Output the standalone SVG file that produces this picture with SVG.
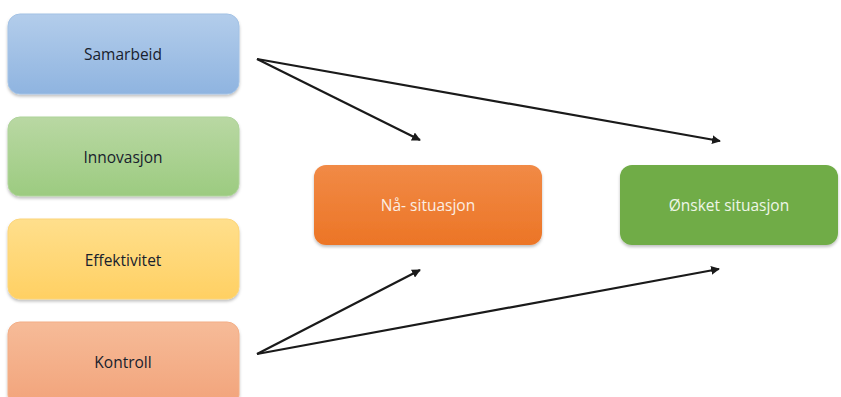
<svg xmlns="http://www.w3.org/2000/svg" width="841" height="397" viewBox="0 0 841 397">
  <defs>
    <linearGradient id="gBlue" x1="0" y1="0" x2="0" y2="1">
      <stop offset="0" stop-color="#b3cdeb"/>
      <stop offset="1" stop-color="#8fb4e0"/>
    </linearGradient>
    <linearGradient id="gGreen" x1="0" y1="0" x2="0" y2="1">
      <stop offset="0" stop-color="#b9d8a3"/>
      <stop offset="1" stop-color="#9ccb80"/>
    </linearGradient>
    <linearGradient id="gYellow" x1="0" y1="0" x2="0" y2="1">
      <stop offset="0" stop-color="#ffdf8c"/>
      <stop offset="1" stop-color="#ffd063"/>
    </linearGradient>
    <linearGradient id="gSalmon" x1="0" y1="0" x2="0" y2="1">
      <stop offset="0" stop-color="#f6bb98"/>
      <stop offset="1" stop-color="#f2a37a"/>
    </linearGradient>
    <linearGradient id="gOrange" x1="0" y1="0" x2="0" y2="1">
      <stop offset="0" stop-color="#f18a46"/>
      <stop offset="1" stop-color="#ec7526"/>
    </linearGradient>
    <filter id="shadow" x="-10%" y="-10%" width="120%" height="130%">
      <feDropShadow dx="0" dy="2" stdDeviation="1.5" flood-color="#000" flood-opacity="0.25"/>
    </filter>
    <marker id="arrow" viewBox="0 0 10 10" refX="9" refY="5" markerWidth="4" markerHeight="4" orient="auto">
      <path d="M0,0 L10,5 L0,10 z" fill="#1a1a1a"/>
    </marker>
  </defs>
  <style>
    .box { filter: url(#shadow); }
    .lbl { font-family: "Open Sans", "Liberation Sans", sans-serif; font-size: 15.5px; text-anchor: middle; dominant-baseline: central; fill: #18212d; }
    .lbl-w { fill: #fbeee4; }
    .conn { stroke: #1a1a1a; stroke-width: 2.2; fill: none; marker-end: url(#arrow); }
  </style>
  <rect width="841" height="397" fill="#ffffff"/>

  <g id="samarbeid">
    <rect class="box" x="8" y="14" width="231" height="80" rx="12" fill="url(#gBlue)" stroke="#a3c2e5" stroke-width="1"/>
    <text class="lbl" x="123" y="54">Samarbeid</text>
  </g>
  <g id="innovasjon">
    <rect class="box" x="8" y="117" width="231" height="79" rx="12" fill="url(#gGreen)" stroke="#aed39a" stroke-width="1"/>
    <text class="lbl" x="123" y="157">Innovasjon</text>
  </g>
  <g id="effektivitet">
    <rect class="box" x="8" y="219" width="231" height="80" rx="12" fill="url(#gYellow)" stroke="#fcd579" stroke-width="1"/>
    <text class="lbl" x="123" y="260">Effektivitet</text>
  </g>
  <g id="kontroll">
    <rect class="box" x="8" y="322" width="231" height="85" rx="12" fill="url(#gSalmon)" stroke="#f3ae86" stroke-width="1"/>
    <text class="lbl" x="123" y="362">Kontroll</text>
  </g>
  <g id="na-situasjon">
    <rect class="box" x="314" y="165" width="228" height="80" rx="12" fill="url(#gOrange)"/>
    <text class="lbl lbl-w" x="428" y="205">Nå- situasjon</text>
  </g>
  <g id="onsket-situasjon">
    <rect class="box" x="620" y="165" width="218" height="80" rx="12" fill="#6fac46"/>
    <text class="lbl lbl-w" x="729" y="205" style="fill:#eef6e8">Ønsket situasjon</text>
  </g>

  <g id="connectors">
    <line class="conn" x1="257" y1="59" x2="420" y2="140"/>
    <line class="conn" x1="257" y1="59" x2="720" y2="141"/>
    <line class="conn" x1="257" y1="354" x2="420" y2="270"/>
    <line class="conn" x1="257" y1="354" x2="719" y2="269"/>
  </g>
</svg>
